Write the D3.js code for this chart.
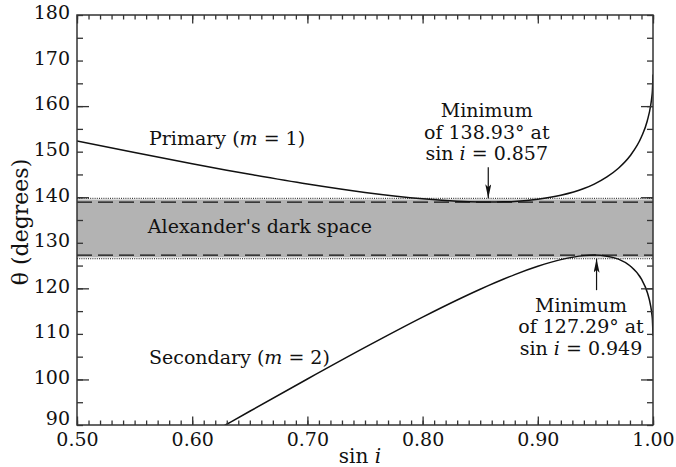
<!DOCTYPE html>
<html>
<head>
<meta charset="utf-8">
<script src="https://cdn.jsdelivr.net/npm/d3@7"></script>
<style>
  body { margin: 0; background: #fff; }
  text { font-family: "DejaVu Serif", serif; fill: #111; }
</style>
</head>
<body>
<div id="chart"></div>
<script>
// sin i samples and deviation angles
const sinI = [0.50, 0.55, 0.60, 0.63, 0.65, 0.70, 0.75, 0.80, 0.83, 0.85, 0.857, 0.87, 0.88,
              0.90, 0.92, 0.94, 0.949, 0.96, 0.97, 0.98, 0.99, 0.995, 0.998, 0.999, 0.9995, 1.00];
const primaryTheta = [152.36, 149.80, 147.34, 145.92, 145.02, 142.88, 141.04, 139.64, 139.10, 138.94, 138.93, 138.98, 139.08,
                      139.54, 140.42, 141.91, 142.89, 144.46, 146.36, 149.05, 153.26, 156.74, 160.19, 162.06, 163.43, 166.93];
const secondaryTheta = [71.45, 78.66, 85.86, 90.16, 93.02, 100.10, 107.03, 113.68, 117.44, 119.80, 120.59, 121.99, 123.02,
                        124.85, 126.30, 127.18, 127.29, 127.05, 126.40, 124.95, 122.00, 119.15, 116.09, 114.35, 113.04, 109.61];

const dashedLevels = [138.93, 127.29];
const dottedLevels = [139.76, 126.5];
const bandRange = [139.5, 126.8];

const minSinI = [0.857, 0.951];
const minLabels = [["Minimum", "of 138.93° at", "0.857"], ["Minimum", "of 127.29° at", "0.949"]];

const xTickLabels = [0.5, 0.6, 0.7, 0.8, 0.9, 1.0];
const yTickLabels = [90, 100, 110, 120, 130, 140, 150, 160, 170, 180];

const W = 676, H = 467;
const margin = { top: 15, right: 23, bottom: 42, left: 77 };
const width = W - margin.left - margin.right;
const height = H - margin.top - margin.bottom;

const svg = d3.select("#chart").append("svg")
    .attr("width", W)
    .attr("height", H);

const g = svg.append("g")
    .attr("transform", "translate(" + margin.left + "," + margin.top + ")");

const x = d3.scaleLinear().domain([0.5, 1.0]).range([0, width]);
const y = d3.scaleLinear().domain([90, 180]).range([height, 0]);

const defs = svg.append("defs");
defs.append("clipPath").attr("id", "plotClip")
    .append("rect").attr("width", width).attr("height", height);

// narrow filled arrow head, drawn along +x so orient=auto works
defs.append("marker")
    .attr("id", "arrow")
    .attr("viewBox", "0 0 14 6")
    .attr("refX", 14).attr("refY", 3)
    .attr("markerWidth", 14).attr("markerHeight", 6)
    .attr("markerUnits", "userSpaceOnUse")
    .attr("orient", "auto")
    .append("path")
    .attr("d", "M0,0 L14,3 L0,6 L3,3 Z")
    .attr("fill", "#111");

// Alexander's dark space band
g.append("rect")
    .attr("x", 0)
    .attr("width", width)
    .attr("y", y(bandRange[0]))
    .attr("height", y(bandRange[1]) - y(bandRange[0]))
    .attr("fill", "#b3b3b3");

g.selectAll(".dashed").data(dashedLevels).enter().append("line")
    .attr("x1", 0).attr("x2", width)
    .attr("y1", d => y(d)).attr("y2", d => y(d))
    .attr("stroke", "#111").attr("stroke-width", 1.4)
    .attr("stroke-dasharray", "15,6");

g.selectAll(".dotted").data(dottedLevels).enter().append("line")
    .attr("x1", 0).attr("x2", width)
    .attr("y1", d => y(d)).attr("y2", d => y(d))
    .attr("stroke", "#111").attr("stroke-width", 1)
    .attr("stroke-dasharray", "1,1.2");

// curves
const line = d3.line()
    .x(d => x(d[0]))
    .y(d => y(d[1]))
    .curve(d3.curveMonotoneX);

const curves = g.append("g").attr("clip-path", "url(#plotClip)");
[primaryTheta, secondaryTheta].forEach(function(series) {
    curves.append("path")
        .datum(sinI.map((s, i) => [s, series[i]]))
        .attr("d", line)
        .attr("fill", "none")
        .attr("stroke", "#111")
        .attr("stroke-width", 1.5);
});

// axes, ticks pointing inward
const axisColor = "#333";
function styleAxis(sel) {
    sel.select(".domain").remove();
    sel.selectAll("line").attr("stroke", axisColor).attr("stroke-width", 1.3);
    sel.selectAll("text").style("font-size", "19px").attr("fill", "#111");
}

const xMinor = d3.range(50, 101).map(d => d / 100);
const xMajor = xTickLabels;
const yMinor = d3.range(90, 181, 5);
const yMajor = [100, 120, 140, 160];

g.append("g").attr("transform", "translate(0," + height + ")")
    .call(d3.axisBottom(x).tickValues(xMinor).tickSizeInner(-4.5).tickSizeOuter(0).tickFormat(""))
    .call(styleAxis);
g.append("g").attr("transform", "translate(0," + height + ")")
    .call(d3.axisBottom(x).tickValues(xMajor).tickSizeInner(-8.5).tickSizeOuter(0).tickPadding(8).tickFormat(d3.format(".2f")))
    .call(styleAxis);
g.append("g")
    .call(d3.axisTop(x).tickValues(xMinor).tickSizeInner(-4.5).tickSizeOuter(0).tickFormat(""))
    .call(styleAxis);
g.append("g")
    .call(d3.axisTop(x).tickValues(xMajor).tickSizeInner(-8.5).tickSizeOuter(0).tickFormat(""))
    .call(styleAxis);

g.append("g")
    .call(d3.axisLeft(y).tickValues(yMinor).tickSizeInner(-6).tickSizeOuter(0).tickFormat(""))
    .call(styleAxis);
g.append("g")
    .call(d3.axisLeft(y).tickValues(yMajor).tickSizeInner(-12).tickSizeOuter(0).tickFormat(""))
    .call(styleAxis);
g.append("g")
    .call(d3.axisLeft(y).tickValues(yTickLabels).tickSize(0).tickPadding(7).tickFormat(d3.format("d")))
    .call(styleAxis)
    // the bottom label is nudged up so it clears the 0.50 label
    .call(s => s.selectAll("text").attr("dy", d => d === 90 ? "-0.05em" : "0.2em"));
g.append("g").attr("transform", "translate(" + width + ",0)")
    .call(d3.axisRight(y).tickValues(yMinor).tickSizeInner(-6).tickSizeOuter(0).tickFormat(""))
    .call(styleAxis);
g.append("g").attr("transform", "translate(" + width + ",0)")
    .call(d3.axisRight(y).tickValues(yMajor).tickSizeInner(-12).tickSizeOuter(0).tickFormat(""))
    .call(styleAxis);

g.append("rect")
    .attr("width", width).attr("height", height)
    .attr("fill", "none").attr("stroke", axisColor).attr("stroke-width", 1.5);

// axis titles
const xTitle = svg.append("text")
    .attr("x", margin.left + width / 2 - 5)
    .attr("y", 463)
    .attr("text-anchor", "middle")
    .style("font-size", "20px");
xTitle.append("tspan").text("sin ");
xTitle.append("tspan").style("font-style", "italic").text("i");

svg.append("text")
    .attr("transform", "translate(28," + (margin.top + height / 2 + 2) + ") rotate(-90)")
    .attr("text-anchor", "middle")
    .style("font-size", "22px")
    .text("θ (degrees)");

// curve labels
function labelWithM(xv, yv, name, m) {
    const t = g.append("text")
        .attr("x", x(xv)).attr("y", y(yv))
        .style("font-size", "19px");
    t.append("tspan").text(name + " (");
    t.append("tspan").style("font-style", "italic").text("m");
    t.append("tspan").text(" = " + m + ")");
}
labelWithM(0.5625, 151.45, "Primary", 1);
labelWithM(0.5625, 103.4, "Secondary", 2);

g.append("text")
    .attr("x", x(0.5615)).attr("y", y(132.15))
    .style("font-size", "19px")
    .text("Alexander's dark space");

// minimum annotations
const annot = [
    { cx: 0.8557, base: 157.6, tip: dottedLevels[0], tail: 146.6 },
    { cx: 0.9375, base: 114.9, tip: dottedLevels[1], tail: 119.6 }
];
annot.forEach(function(a, k) {
    const lines = minLabels[k];
    const t = g.append("text")
        .attr("x", x(a.cx)).attr("y", y(a.base))
        .attr("text-anchor", "middle")
        .style("font-size", "19px");
    t.append("tspan").attr("x", x(a.cx)).attr("dy", 0).text(lines[0]);
    t.append("tspan").attr("x", x(a.cx)).attr("dy", 21.5).text(lines[1]);
    const l3 = t.append("tspan").attr("x", x(a.cx)).attr("dy", 21.5);
    l3.append("tspan").text("sin ");
    l3.append("tspan").style("font-style", "italic").text("i");
    l3.append("tspan").text(" = " + lines[2]);

    g.append("line")
        .attr("x1", x(minSinI[k])).attr("x2", x(minSinI[k]))
        .attr("y1", y(a.tail)).attr("y2", y(a.tip))
        .attr("stroke", "#111").attr("stroke-width", 1.2)
        .attr("marker-end", "url(#arrow)");
});
</script>
</body>
</html>
